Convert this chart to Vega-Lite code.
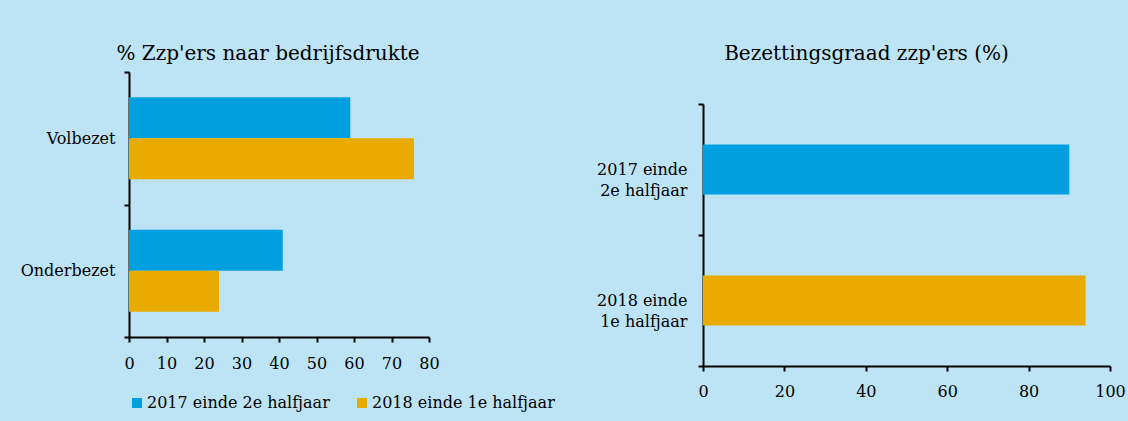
{
  "$schema": "https://vega.github.io/schema/vega-lite/v6.json",
  "background": "#bde4f5",
  "padding": {"left": 9, "top": 44, "right": 3, "bottom": 14},
  "spacing": 28,
  "config": {
    "font": "DejaVu Serif",
    "view": {"stroke": null},
    "axis": {
      "domainColor": "black",
      "domainWidth": 2,
      "tickColor": "black",
      "tickWidth": 2,
      "tickSize": 5,
      "labelColor": "black",
      "labelFontSize": 16,
      "labelFont": "DejaVu Serif",
      "labelFlush": false,
      "grid": false
    },
    "legend": {"labelFont": "DejaVu Serif", "labelColor": "black"},
    "title": {"fontSize": 20, "fontWeight": "normal", "color": "black", "font": "DejaVu Serif"}
  },
  "datasets": {
    "drukte": [
      {"categorie": "Volbezet", "periode": "2017 einde 2e halfjaar", "pct": 59},
      {"categorie": "Volbezet", "periode": "2018 einde 1e halfjaar", "pct": 76},
      {"categorie": "Onderbezet", "periode": "2017 einde 2e halfjaar", "pct": 41},
      {"categorie": "Onderbezet", "periode": "2018 einde 1e halfjaar", "pct": 24}
    ],
    "bezetting": [
      {"periode": "2017 einde 2e halfjaar", "pct": 90},
      {"periode": "2018 einde 1e halfjaar", "pct": 94}
    ]
  },
  "resolve": {"scale": {"color": "independent"}, "legend": {"color": "independent"}},
  "hconcat": [
    {
      "width": 300,
      "height": 265,
      "title": {"text": "% Zzp'ers naar bedrijfsdrukte", "anchor": "middle", "dx": -11, "offset": 0},
      "data": {"name": "drukte"},
      "mark": {"type": "bar"},
      "encoding": {
        "y": {
          "field": "categorie",
          "type": "nominal",
          "sort": ["Volbezet", "Onderbezet"],
          "scale": {"paddingInner": 0, "paddingOuter": 0},
          "axis": {"title": null, "tickBand": "extent", "labelPadding": 9, "minExtent": 120, "maxExtent": 120}
        },
        "yOffset": {
          "field": "periode",
          "type": "nominal",
          "sort": ["2017 einde 2e halfjaar", "2018 einde 1e halfjaar"],
          "scale": {"paddingInner": 0, "paddingOuter": 0.616}
        },
        "x": {
          "field": "pct",
          "type": "quantitative",
          "scale": {"domain": [0, 80], "nice": false},
          "axis": {"title": null, "values": [0, 10, 20, 30, 40, 50, 60, 70, 80], "labelPadding": 13}
        },
        "color": {
          "field": "periode",
          "type": "nominal",
          "sort": ["2017 einde 2e halfjaar", "2018 einde 1e halfjaar"],
          "scale": {"range": ["#009fe0", "#e9ab00"]},
          "legend": {
            "orient": "bottom",
            "direction": "horizontal",
            "title": null,
            "symbolType": "square",
            "symbolSize": 100,
            "symbolStrokeWidth": 0,
            "labelFontSize": 16,
            "labelLimit": 400,
            "columnPadding": 24,
            "labelOffset": 2,
            "offset": 24
          }
        }
      }
    },
    {
      "width": 407,
      "height": 294,
      "title": {"text": "Bezettingsgraad zzp'ers (%)", "anchor": "middle", "dx": -40, "offset": 0},
      "data": {"name": "bezetting"},
      "mark": {"type": "bar", "height": {"band": 0.382}},
      "encoding": {
        "y": {
          "field": "periode",
          "type": "nominal",
          "sort": ["2017 einde 2e halfjaar", "2018 einde 1e halfjaar"],
          "scale": {"paddingInner": 0, "paddingOuter": 0, "range": [32, 294]},
          "axis": {
            "title": null,
            "tickBand": "extent",
            "labelPadding": 11,
            "labelExpr": "[slice(datum.label, 0, 10), slice(datum.label, 11)]",
            "labelLineHeight": 21,
            "minExtent": 120,
            "maxExtent": 120
          }
        },
        "x": {
          "field": "pct",
          "type": "quantitative",
          "scale": {"domain": [0, 100], "nice": false},
          "axis": {"title": null, "values": [0, 20, 40, 60, 80, 100], "labelPadding": 12}
        },
        "color": {
          "field": "periode",
          "type": "nominal",
          "sort": ["2017 einde 2e halfjaar", "2018 einde 1e halfjaar"],
          "scale": {"range": ["#009fe0", "#e9ab00"]},
          "legend": null
        }
      }
    }
  ]
}
